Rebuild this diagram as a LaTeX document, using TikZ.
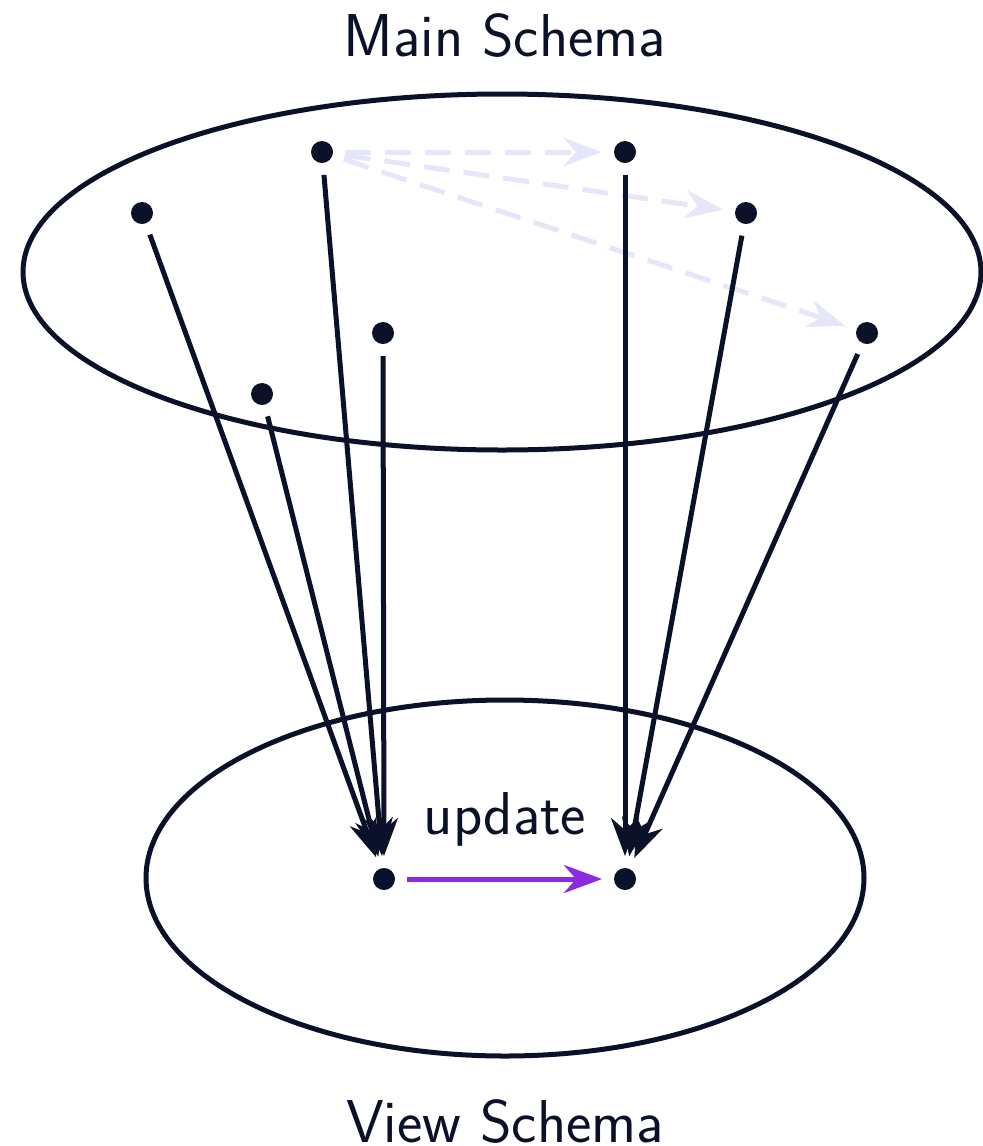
\documentclass[tikz,border=0pt]{standalone}
\usetikzlibrary{arrows.meta}
\definecolor{ink}{HTML}{0A1128}
\definecolor{lav}{HTML}{E6E6FA}
\definecolor{purp}{HTML}{8A2BE2}
\begin{document}
\begin{tikzpicture}[x=0.025cm,y=-0.025cm,
  dot/.style={circle,fill=ink,inner sep=0pt,minimum size=0.55cm,outer sep=0.3cm},
  lbl/.style={text=ink,font=\sffamily\fontsize{43}{51}\selectfont},
  ell/.style={draw=ink,line width=0.125cm},
  map/.style={draw=ink,line width=0.125cm,-{Stealth[length=0.95cm,width=0.7cm,inset=0.3cm]}},
  dep/.style={draw=lav,line width=0.125cm,dash pattern=on 0.65cm off 0.35cm,-{Stealth[length=0.95cm,width=0.7cm,inset=0.3cm]}},
  upd/.style={draw=purp,line width=0.125cm,-{Stealth[length=0.95cm,width=0.7cm,inset=0.3cm]}}]
\useasboundingbox (0,0) rectangle (982,1146);
\draw[ell] (502,272) ellipse [x radius=479, y radius=178];
\draw[ell] (505,878) ellipse [x radius=359, y radius=178];
\node[lbl] (main) at (505,36) {Main Schema};
\node[lbl] (view) at (505,1122) {View Schema};
\node[dot] (a) at (322,152) {};
\node[dot] (b) at (625,152) {};
\node[dot] (c) at (142,213) {};
\node[dot] (d) at (746,213) {};
\node[dot] (e) at (383,333) {};
\node[dot] (f) at (867,333) {};
\node[dot] (g) at (262,394) {};
\node[dot] (l) at (384,879) {};
\node[dot] (r) at (625,879) {};
\node[lbl] (u) at (505,819) {update};
\draw[dep] (a) -- (b);
\draw[dep] (a) -- (d);
\draw[dep] (a) -- (f);
\draw[map] (a) -- (l);
\draw[map] (c) -- (l);
\draw[map] (e) -- (l);
\draw[map] (g) -- (l);
\draw[map] (b) -- (r);
\draw[map] (d) -- (r);
\draw[map] (f) -- (r);
\draw[upd] (l) -- (r);
\end{tikzpicture}
\end{document}
